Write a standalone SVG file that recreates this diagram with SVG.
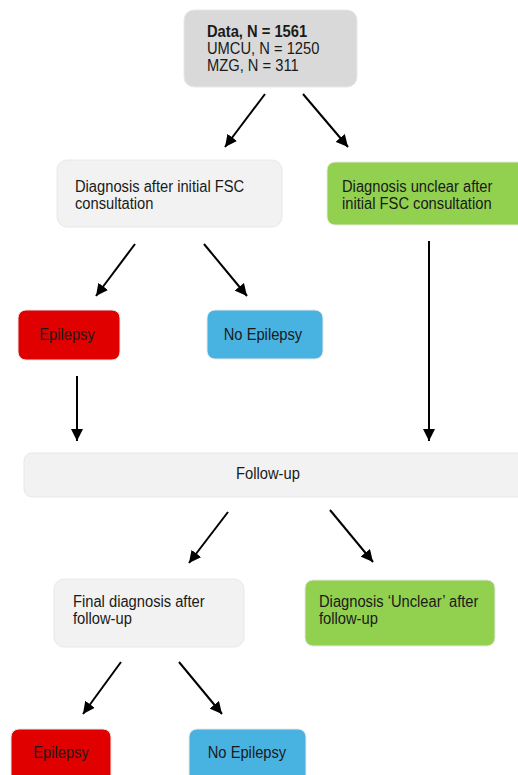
<svg xmlns="http://www.w3.org/2000/svg" width="518" height="775" viewBox="0 0 518 775">
<style>
  text { font-family: "Liberation Sans", Arial, sans-serif; font-size: 16px; fill: #1a1a1a; }
  .box { stroke: #e8e8e8; stroke-width: 1; }
  .gray { fill: #d9d9d9; }
  .light { fill: #f2f2f2; }
  .green { fill: #92d050; }
  .red { fill: #e00000; }
  .blue { fill: #48b2e1; }
  .c { text-anchor: middle; }
  .conn line { stroke: #000; stroke-width: 2; marker-end: url(#ah); }
</style>
<defs>
  <marker id="ah" markerUnits="userSpaceOnUse" markerWidth="12" markerHeight="12" viewBox="0 0 10 10" refX="10" refY="5" orient="auto">
    <path d="M0,0 L10,5 L0,10 z" fill="#000"/>
  </marker>
</defs>
<rect width="518" height="775" fill="#fff"/>
<g id="data">
  <rect class="box gray" x="184" y="10" width="173" height="77" rx="10"/>
  <text x="207" y="37" font-weight="bold" transform="translate(16.56 0) scale(0.92 1)">Data, N = 1561</text>
  <text x="207" y="54" transform="translate(16.56 0) scale(0.92 1)">UMCU, N = 1250</text>
  <text x="207" y="71" transform="translate(16.56 0) scale(0.92 1)">MZG, N = 311</text>
</g>
<g id="diag-initial">
  <rect class="box light" x="57" y="160" width="225" height="67" rx="10"/>
  <text x="75" y="192" transform="translate(6 0) scale(0.92 1)">Diagnosis after initial FSC</text>
  <text x="75" y="209" transform="translate(6 0) scale(0.92 1)">consultation</text>
</g>
<g id="unclear-initial">
  <rect class="box green" x="327" y="162" width="200" height="63" rx="8"/>
  <text x="342" y="192" transform="translate(27.36 0) scale(0.92 1)">Diagnosis unclear after</text>
  <text x="342" y="209" transform="translate(27.36 0) scale(0.92 1)">initial FSC consultation</text>
</g>
<g id="epilepsy1">
  <rect class="box red" x="18" y="310" width="102" height="50" rx="8"/>
  <text class="c" x="67" y="340" transform="translate(5.36 0) scale(0.92 1)">Epilepsy</text>
</g>
<g id="noepilepsy1">
  <rect class="box blue" x="207" y="310" width="116" height="49" rx="8"/>
  <text class="c" x="263" y="340" transform="translate(21.04 0) scale(0.92 1)">No Epilepsy</text>
</g>
<g id="followup">
  <rect class="box light" x="24" y="453" width="504" height="44" rx="8"/>
  <text class="c" x="268" y="479" transform="translate(21.44 0) scale(0.92 1)">Follow-up</text>
</g>
<g id="final-diag">
  <rect class="box light" x="54" y="579" width="190" height="68" rx="10"/>
  <text x="73" y="607" transform="translate(5.84 0) scale(0.92 1)">Final diagnosis after</text>
  <text x="73" y="624" transform="translate(5.84 0) scale(0.92 1)">follow-up</text>
</g>
<g id="unclear-final">
  <rect class="box green" x="305" y="580" width="190" height="66" rx="8"/>
  <text x="319" y="607" transform="translate(25.52 0) scale(0.92 1)">Diagnosis ‘Unclear’ after</text>
  <text x="319" y="624" transform="translate(25.52 0) scale(0.92 1)">follow-up</text>
</g>
<g id="epilepsy2">
  <rect class="box red" x="11" y="729" width="100" height="60" rx="8"/>
  <text class="c" x="61" y="758" transform="translate(4.88 0) scale(0.92 1)">Epilepsy</text>
</g>
<g id="noepilepsy2">
  <rect class="box blue" x="189" y="729" width="117" height="60" rx="8"/>
  <text class="c" x="247" y="758" transform="translate(19.76 0) scale(0.92 1)">No Epilepsy</text>
</g>
<g class="conn" id="connectors">
  <line x1="265" y1="94" x2="225" y2="147"/>
  <line x1="303" y1="94" x2="348" y2="147"/>
  <line x1="135" y1="244" x2="96" y2="296"/>
  <line x1="204" y1="244" x2="247" y2="296"/>
  <line x1="429" y1="241" x2="429" y2="441"/>
  <line x1="77" y1="376" x2="77" y2="441"/>
  <line x1="228" y1="512" x2="189" y2="563"/>
  <line x1="330" y1="510" x2="373" y2="562"/>
  <line x1="121" y1="662" x2="83" y2="714"/>
  <line x1="179" y1="662" x2="222" y2="714"/>
</g>
</svg>
